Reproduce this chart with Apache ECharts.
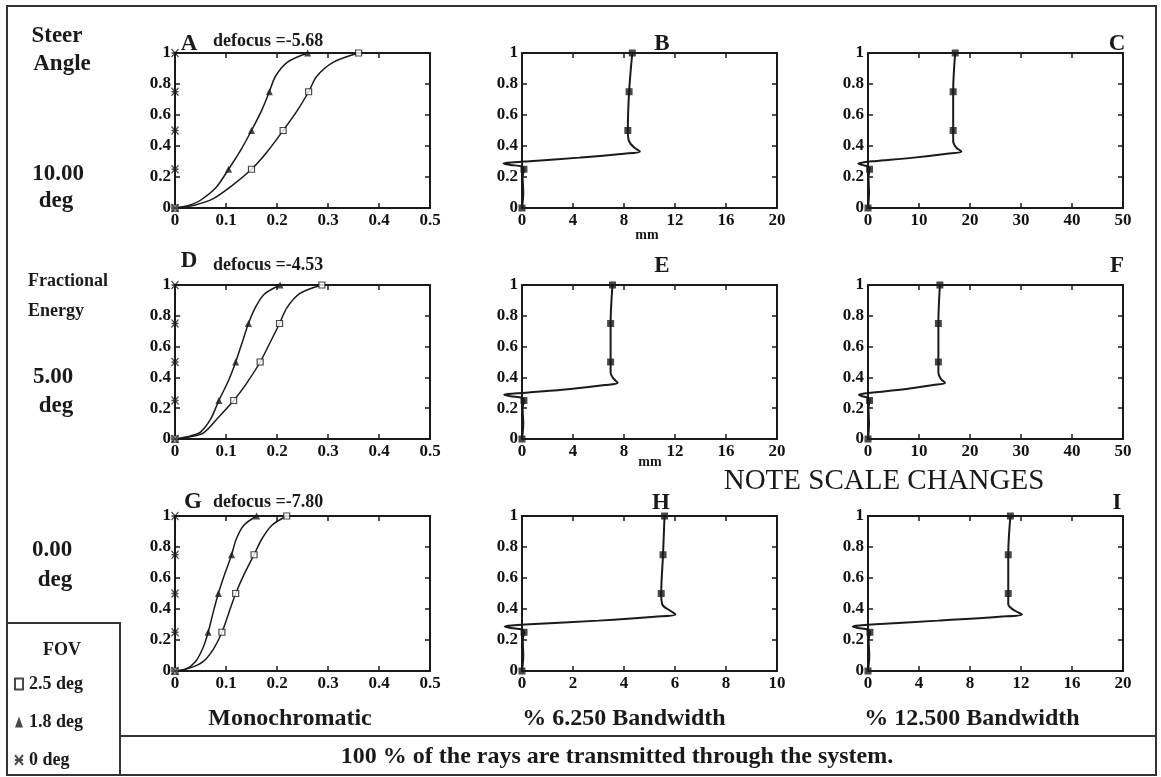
<!DOCTYPE html>
<html>
<head>
<meta charset="utf-8">
<script src="https://cdn.jsdelivr.net/npm/echarts@6/dist/echarts.min.js"></script>
<style>
  html, body { margin: 0; padding: 0; background: #fff; }
  #root { width: 1161px; height: 777px; }
</style>
</head>
<body>
<div id="root"></div>
<script>
// fractional energy levels where the markers sit
var fracLevels = [0, 0.25, 0.5, 0.75, 1];

// tick labels
var ticksY = [0, 0.2, 0.4, 0.6, 0.8, 1];
var ticksMono = [0, 0.1, 0.2, 0.3, 0.4, 0.5];
var ticks20 = [0, 4, 8, 12, 16, 20];
var ticks50 = [0, 10, 20, 30, 40, 50];
var ticks10 = [0, 2, 4, 6, 8, 10];

// monochromatic panels: [radius, fractional energy]
var aTri = [[0,0],[0.03,0.02],[0.05,0.05],[0.08,0.13],[0.105,0.25],[0.13,0.38],[0.15,0.5],[0.17,0.63],[0.185,0.75],[0.197,0.85],[0.22,0.94],[0.26,1]];
var aSq = [[0,0],[0.04,0.02],[0.075,0.06],[0.11,0.14],[0.15,0.25],[0.18,0.36],[0.212,0.5],[0.24,0.63],[0.262,0.75],[0.278,0.85],[0.31,0.94],[0.36,1]];
var dTri = [[0,0],[0.03,0.02],[0.05,0.045],[0.07,0.13],[0.086,0.25],[0.105,0.38],[0.119,0.5],[0.132,0.63],[0.144,0.75],[0.157,0.85],[0.175,0.94],[0.206,1]];
var dSq = [[0,0],[0.03,0.015],[0.056,0.04],[0.085,0.14],[0.115,0.25],[0.14,0.36],[0.167,0.5],[0.187,0.63],[0.205,0.75],[0.219,0.85],[0.245,0.945],[0.288,1]];
var gTri = [[0,0],[0.02,0.01],[0.04,0.06],[0.055,0.15],[0.065,0.25],[0.075,0.38],[0.085,0.5],[0.098,0.63],[0.111,0.75],[0.12,0.85],[0.135,0.94],[0.16,1]];
var gSq = [[0,0],[0.03,0.02],[0.055,0.06],[0.075,0.14],[0.092,0.25],[0.105,0.37],[0.119,0.5],[0.135,0.62],[0.155,0.75],[0.17,0.85],[0.19,0.94],[0.219,1]];
var zeroDeg = [[0,0],[0,0.25],[0,0.5],[0,0.75],[0,1]];

// bandwidth panels (the curve hooks a little left of the axis near 0.28)
var bCurve = [[0,0],[0.1,0.1],[0.05,0.2],[0.15,0.25],[0,0.268],[-0.9,0.278],[-1.45,0.287],[-0.6,0.295],[0.6,0.302],[4.5,0.325],[8,0.35],[9.25,0.365],[8.8,0.39],[8.4,0.43],[8.3,0.5],[8.4,0.75],[8.65,1]];
var cCurve = [[0,0],[0.2,0.1],[0.1,0.2],[0.3,0.25],[0,0.268],[-1.2,0.278],[-1.9,0.287],[-0.8,0.295],[1.2,0.302],[9,0.325],[15.5,0.35],[18.3,0.365],[17.3,0.39],[16.7,0.43],[16.7,0.5],[16.7,0.75],[17.1,1]];
var eCurve = [[0,0],[0.1,0.1],[0.05,0.2],[0.15,0.25],[0,0.268],[-0.9,0.278],[-1.4,0.287],[-0.6,0.295],[0.5,0.302],[3.8,0.325],[6.5,0.35],[7.5,0.365],[7.2,0.39],[6.95,0.43],[6.95,0.5],[6.95,0.75],[7.1,1]];
var fCurve = [[0,0],[0.2,0.1],[0.1,0.2],[0.3,0.25],[0,0.268],[-1.1,0.278],[-1.8,0.287],[-0.8,0.295],[1,0.302],[7.5,0.325],[12.8,0.35],[15.1,0.365],[14.3,0.39],[13.8,0.43],[13.8,0.5],[13.8,0.75],[14.1,1]];
var hCurve = [[0,0],[0.05,0.1],[0.03,0.2],[0.08,0.25],[0,0.268],[-0.45,0.278],[-0.68,0.287],[-0.3,0.295],[0.3,0.302],[3,0.325],[5.2,0.35],[6.02,0.365],[5.8,0.39],[5.5,0.43],[5.46,0.5],[5.53,0.75],[5.59,1]];
var iCurve = [[0,0],[0.1,0.1],[0.05,0.2],[0.15,0.25],[0,0.268],[-0.8,0.278],[-1.2,0.287],[-0.5,0.295],[0.6,0.302],[5.5,0.325],[10.3,0.35],[12.07,0.365],[11.5,0.39],[11,0.43],[11,0.5],[11,0.75],[11.17,1]];

var defocus = ['-5.68', '-4.53', '-7.80'];

var FONT = '"Liberation Serif", "DejaVu Serif", serif';
var INK = '#1a1a1a';

// layout of the 3x3 panels
var colLeft = [175, 522, 868];
var rowTop = [53, 285, 516];
var rowH = [155, 154, 155];
var panelW = 255;
var hookRoom = 30; // extra px on the left so the hook past the axis is not clipped

var panels = [
  {mono: true, curves: [aTri, aSq], ticks: ticksMono},
  {curves: [bCurve], ticks: ticks20},
  {curves: [cCurve], ticks: ticks50},
  {mono: true, curves: [dTri, dSq], ticks: ticksMono},
  {curves: [eCurve], ticks: ticks20},
  {curves: [fCurve], ticks: ticks50},
  {mono: true, curves: [gTri, gSq], ticks: ticksMono},
  {curves: [hCurve], ticks: ticks10},
  {curves: [iCurve], ticks: ticks20}
];

function marks(curve) {
  return curve.filter(function(p) { return fracLevels.indexOf(p[1]) >= 0; });
}

function makeAxis(i, t, pos, label) {
  return {
    type: 'value',
    gridIndex: i,
    position: pos,
    min: t[0],
    max: t[t.length - 1],
    interval: t[1] - t[0],
    axisLine: {show: true, onZero: false, lineStyle: {color: INK, width: 2}},
    axisTick: {show: true, inside: true, length: 5, lineStyle: {color: INK, width: 1.5}},
    axisLabel: {show: label, margin: 4, color: '#111', fontFamily: FONT, fontWeight: 'bold', fontSize: 17},
    splitLine: {show: false}
  };
}

var grids = [], xAxes = [], yAxes = [], series = [];
panels.forEach(function(p, i) {
  var r = Math.floor(i / 3), c = i % 3;
  grids.push({left: colLeft[c], top: rowTop[r], width: panelW, height: rowH[r]});
  xAxes.push(makeAxis(i, p.ticks, 'bottom', true));
  xAxes.push(makeAxis(i, p.ticks, 'top', false));
  yAxes.push(makeAxis(i, ticksY, 'left', true));
  yAxes.push(makeAxis(i, ticksY, 'right', false));
});

panels.forEach(function(p, i) {
  var r = Math.floor(i / 3), c = i % 3;
  var ax = {xAxisIndex: 2 * i, yAxisIndex: 2 * i};
  if (p.mono) {
    var names = ['1.8 deg', '2.5 deg'];
    p.curves.forEach(function(cv, k) {
      series.push(Object.assign({
        type: 'line', data: cv, showSymbol: false, smooth: 0.3, silent: true,
        lineStyle: {color: INK, width: 1.5}
      }, ax));
      series.push(Object.assign({
        type: 'scatter', name: names[k], data: marks(cv), z: 3,
        symbol: k === 0 ? 'triangle' : 'rect',
        symbolSize: k === 0 ? 7 : 6,
        itemStyle: k === 0 ? {color: INK} : {color: '#fff', borderColor: INK, borderWidth: 1.2}
      }, ax));
    });
    series.push(Object.assign({
      type: 'scatter', name: '0 deg', data: zeroDeg, z: 4,
      symbol: 'path://M0,0L10,12M10,0L0,12M0,6L10,6', symbolSize: [7, 8],
      itemStyle: {color: 'transparent', borderColor: INK, borderWidth: 1.3}
    }, ax));
  } else {
    // hidden companion grid, same scale, widened to the left
    var t = p.ticks, xmax = t[t.length - 1];
    var g = grids.length;
    grids.push({left: colLeft[c] - hookRoom, top: rowTop[r], width: panelW + hookRoom, height: rowH[r]});
    xAxes.push({type: 'value', gridIndex: g, show: false, min: -hookRoom * xmax / panelW, max: xmax, splitLine: {show: false}});
    yAxes.push({type: 'value', gridIndex: g, show: false, min: 0, max: 1, splitLine: {show: false}});
    series.push({
      type: 'line', data: p.curves[0], xAxisIndex: xAxes.length - 1, yAxisIndex: yAxes.length - 1,
      showSymbol: false, smooth: 0.35, silent: true, lineStyle: {color: INK, width: 2}
    });
    series.push(Object.assign({
      type: 'scatter', name: 'all FOV', data: marks(p.curves[0]), z: 3,
      symbol: 'rect', symbolSize: 7, itemStyle: {color: INK}
    }, ax));
  }
});

function txt(x, y, s, font, align) {
  return {
    type: 'text', x: x, y: y, z: 10, silent: true,
    style: {text: s, font: font, fill: INK, textAlign: align || 'center', textVerticalAlign: 'middle'}
  };
}

var big = 'bold 23px ' + FONT;
var cap = 'bold 24px ' + FONT;
var mid = 'bold 18px ' + FONT;
var small = 'bold 18px ' + FONT;
var graphics = [
  {type: 'rect', shape: {x: 7, y: 6, width: 1149, height: 769}, style: {fill: 'none', stroke: '#333', lineWidth: 2}},
  {type: 'line', shape: {x1: 120, y1: 736, x2: 1156, y2: 736}, style: {stroke: '#333', lineWidth: 2}},
  {type: 'rect', shape: {x: 7, y: 623, width: 113, height: 152}, style: {fill: 'none', stroke: '#333', lineWidth: 2}},
  txt(57, 36, 'Steer', big), txt(62, 64, 'Angle', big),
  txt(58, 174, '10.00', big), txt(56, 201, 'deg', big),
  txt(68, 281, 'Fractional', small), txt(56, 311, 'Energy', small),
  txt(53, 377, '5.00', big), txt(56, 406, 'deg', big),
  txt(52, 550, '0.00', big), txt(55, 580, 'deg', big),
  txt(62, 650, 'FOV', small),
  txt(189, 44, 'A', big), txt(213, 41, 'defocus =' + defocus[0], mid, 'left'),
  txt(189, 261, 'D', big), txt(213, 265, 'defocus =' + defocus[1], mid, 'left'),
  txt(193, 502, 'G', big), txt(213, 502, 'defocus =' + defocus[2], mid, 'left'),
  txt(662, 44, 'B', big), txt(1117, 44, 'C', big),
  txt(662, 266, 'E', big), txt(1117, 266, 'F', big),
  txt(661, 503, 'H', big), txt(1117, 503, 'I', big),
  txt(647, 235, 'mm', 'bold 14px ' + FONT), txt(650, 462, 'mm', 'bold 14px ' + FONT),
  txt(884, 481, 'NOTE SCALE CHANGES', '29px ' + FONT),
  txt(290, 719, 'Monochromatic', cap),
  txt(624, 719, '% 6.250 Bandwidth', cap),
  txt(972, 719, '% 12.500 Bandwidth', cap),
  txt(617, 757, '100 % of the rays are transmitted through the system.', cap)
];

var option = {
  backgroundColor: '#fff',
  animation: false,
  legend: {
    data: ['2.5 deg', '1.8 deg', '0 deg'],
    orient: 'vertical',
    left: 9,
    top: 670,
    itemWidth: 8,
    itemHeight: 11,
    itemGap: 20,
    selectedMode: false,
    textStyle: {fontFamily: FONT, fontWeight: 'bold', fontSize: 18, color: INK, padding: [0, 0, 0, 1]}
  },
  grid: grids,
  xAxis: xAxes,
  yAxis: yAxes,
  series: series,
  graphic: graphics
};

var myChart = echarts.init(document.getElementById('root'));
myChart.setOption(option);
</script>
</body>
</html>
